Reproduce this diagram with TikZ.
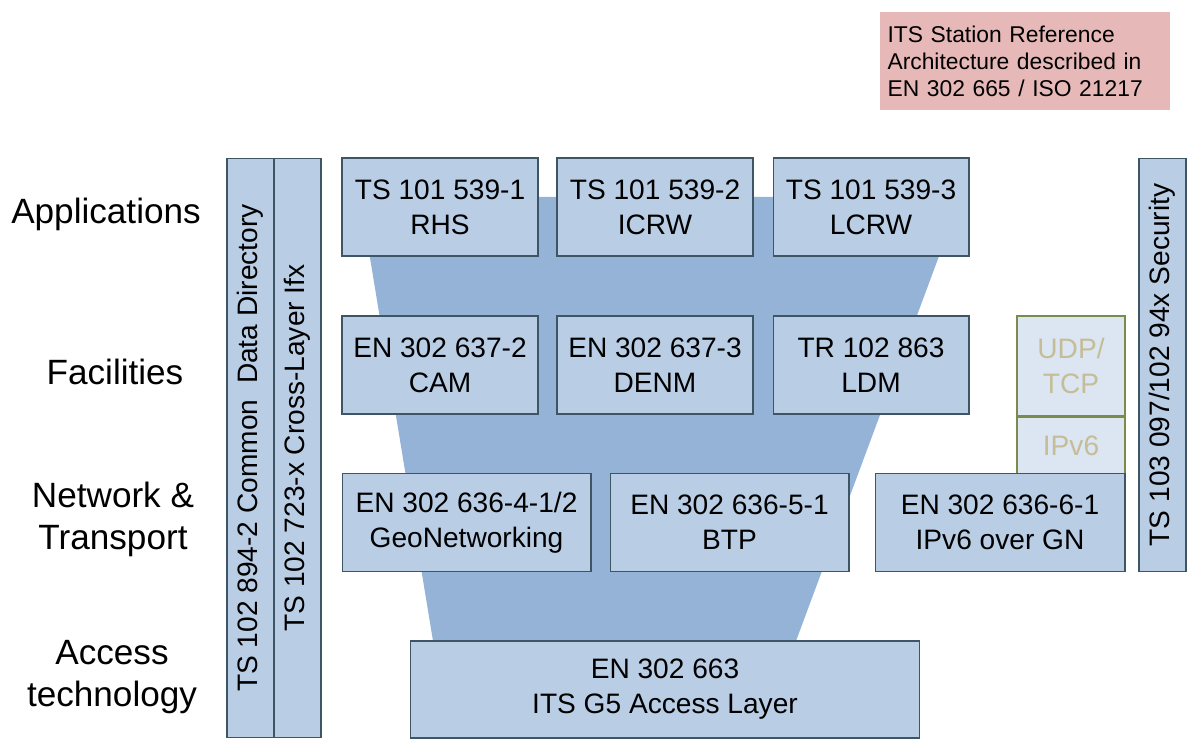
\documentclass[tikz,border=0pt]{standalone}
\usepackage{fontspec}
\setmainfont{Liberation Sans}
\usetikzlibrary{positioning}
\usetikzlibrary{math}

\definecolor{boxblue}{HTML}{B9CDE5}
\definecolor{funnelblue}{HTML}{95B3D7}
\definecolor{edgegray}{HTML}{3E5566}
\definecolor{legendpink}{HTML}{E6B9B8}
\definecolor{ipfill}{HTML}{DCE6F2}
\definecolor{ipedge}{HTML}{7A8B4A}
\definecolor{iptext}{HTML}{C4BD97}

\tikzset{
  stdbox/.style={draw=edgegray, fill=boxblue, line width=0.6pt, align=center,
    inner sep=0pt, font=\fontsize{16}{20}\selectfont},
  barbox/.style={stdbox, rotate=90, minimum height=0.94cm},
  ipbox/.style={draw=ipedge, fill=ipfill, line width=0.6pt, align=center,
    inner sep=0pt, text=iptext, minimum width=2.16cm,
    font=\fontsize{16}{20}\selectfont},
  layerlabel/.style={align=center, font=\fontsize{20}{24}\selectfont},
}

\begin{document}
\begin{tikzpicture}[x=0.02cm,y=-0.02cm]

  \tikzmath{
    \appw = 3.92cm; % width of applications/facilities boxes
    \apph = 1.96cm; % height of one row
  }

  \useasboundingbox (0,0) rectangle (1200,743);

  % funnel behind the stack
  \fill[funnelblue] (360,197) -- (961,197) -- (796,641) -- (433,641) -- cycle;

  % legend
  \node[fill=legendpink, minimum width=5.8cm, minimum height=1.96cm,
    align=left, text width=5.5cm, inner xsep=0.15cm,
    font=\fontsize{13}{15.3}\selectfont]
    (legend) at (1025,61)
    {ITS Station Reference\\Architecture described in\\EN 302 665 / ISO 21217};

  % layer names
  \node[layerlabel] (lapp) at (106,214) {Applications};
  \node[layerlabel] (lfac) at (115,372) {Facilities};
  \node[layerlabel] (lnet) at (113,519) {Network \&\\Transport};
  \node[layerlabel] (lacc) at (112,677) {Access\\technology};

  % vertical bars
  \node[barbox, minimum width=11.6cm] (cdd) at (250.5,448)
    {TS 102 894-2 Common~~Data Directory};
  \node[barbox, minimum width=11.6cm] (cli) at (297.5,448)
    {TS 102 723-x Cross-Layer Ifx};
  \node[barbox, minimum width=8.28cm] (sec) at (1162.5,365)
    {TS 103 097/102 94x Security};

  % applications
  \node[stdbox, minimum width=\appw, minimum height=\apph] (rhs) at (440,207)
    {TS 101 539-1\\RHS};
  \node[stdbox, minimum width=\appw, minimum height=\apph] (icrw) at (655,207)
    {TS 101 539-2\\ICRW};
  \node[stdbox, minimum width=\appw, minimum height=\apph] (lcrw) at (871,207)
    {TS 101 539-3\\LCRW};

  % facilities
  \node[stdbox, minimum width=\appw, minimum height=\apph] (cam) at (440,365)
    {EN 302 637-2\\CAM};
  \node[stdbox, minimum width=\appw, minimum height=\apph] (denm) at (655,365)
    {EN 302 637-3\\DENM};
  \node[stdbox, minimum width=\appw, minimum height=\apph] (ldm) at (871,365)
    {TR 102 863\\LDM};

  % transport over IPv6
  \node[ipbox, minimum height=2.0cm] (udp) at (1071,366) {UDP/\\TCP};
  \node[ipbox, minimum height=1.14cm, below=0pt of udp] (ipv6) {IPv6};

  % network & transport
  \node[stdbox, minimum width=4.98cm, minimum height=\apph] (gn) at (466.5,522.5)
    {EN 302 636-4-1/2\\GeoNetworking};
  \node[stdbox, minimum width=4.78cm, minimum height=\apph] (btp) at (729.5,522.5)
    {EN 302 636-5-1\\BTP};
  \node[stdbox, minimum width=5.0cm, minimum height=\apph] (gn6) at (1000,522.5)
    {EN 302 636-6-1\\IPv6 over GN};

  % access layer
  \node[stdbox, minimum width=10.2cm, minimum height=1.94cm] (g5) at (665,689.5)
    {EN 302 663\\ITS G5 Access Layer};

\end{tikzpicture}
\end{document}
